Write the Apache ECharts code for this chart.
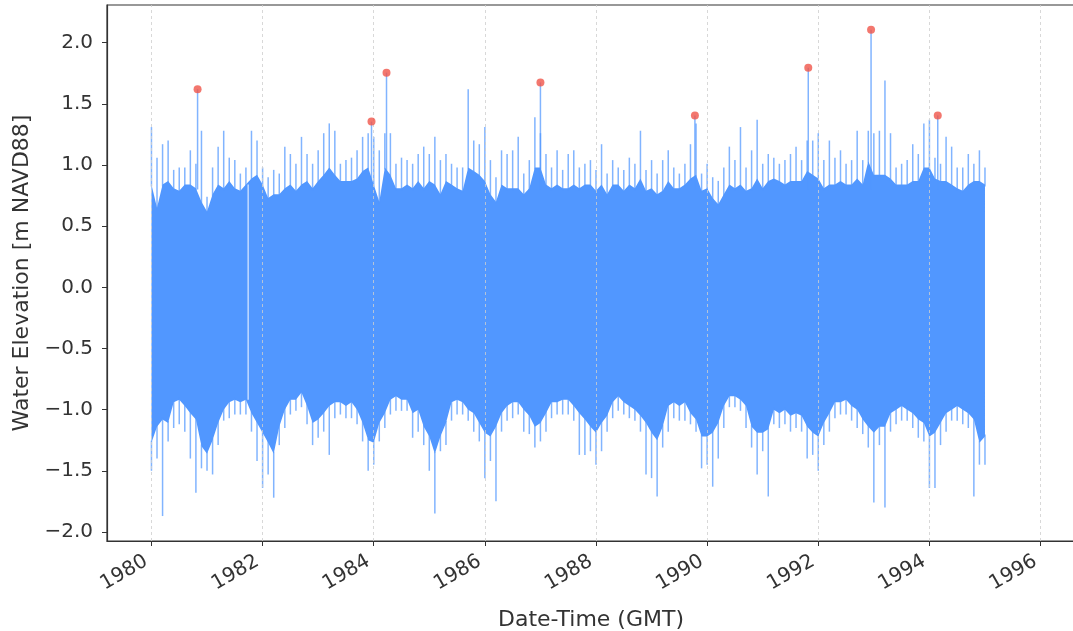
<!DOCTYPE html>
<html><head><meta charset="utf-8">
<script src="https://cdn.jsdelivr.net/npm/echarts@6/dist/echarts.min.js"></script>
<style>html,body{margin:0;padding:0;background:#fff}#c{width:1073px;height:631px}</style>
</head><body><div id="c"></div>
<script>
// Samples every 0.1 year, 1980.0 .. 1995.0
const sampleStart = 1980.0, sampleStep = 0.1;
// typical top / bottom of the tide band in each sample
const upperCore = [
 0.84,0.65,0.84,0.87,0.81,0.79,0.84,0.84,0.81,0.70,
 0.62,0.76,0.84,0.81,0.87,0.81,0.79,0.84,0.89,0.92,
 0.84,0.73,0.76,0.76,0.81,0.84,0.79,0.84,0.87,0.81,
 0.87,0.92,0.98,0.92,0.87,0.87,0.87,0.89,0.95,0.98,
 0.84,0.70,0.98,0.92,0.81,0.81,0.84,0.81,0.87,0.81,
 0.87,0.84,0.76,0.87,0.84,0.81,0.79,0.98,0.95,0.92,
 0.87,0.76,0.70,0.84,0.81,0.81,0.81,0.76,0.81,0.98,
 0.98,0.84,0.81,0.84,0.81,0.81,0.84,0.81,0.84,0.84,
 0.79,0.84,0.76,0.84,0.84,0.79,0.84,0.81,0.89,0.79,
 0.81,0.76,0.79,0.87,0.81,0.81,0.84,0.89,0.92,0.79,
 0.81,0.73,0.68,0.76,0.84,0.81,0.84,0.79,0.81,0.89,
 0.81,0.87,0.89,0.87,0.84,0.87,0.87,0.87,0.95,0.92,
 0.89,0.81,0.84,0.84,0.87,0.84,0.84,0.89,0.84,1.03,
 0.92,0.92,0.92,0.89,0.84,0.84,0.84,0.87,0.87,0.98,
 0.98,0.89,0.87,0.87,0.84,0.81,0.79,0.84,0.87,0.87,
 0.84];
// highest spike in each sample
const upperPeak = [
 1.31,1.06,1.17,1.20,0.96,0.98,0.98,1.12,1.01,1.28,
 0.74,0.98,1.15,1.28,1.06,1.04,0.93,0.98,1.28,1.20,
 0.98,0.90,0.96,0.93,1.15,1.09,1.01,1.23,1.09,1.01,
 1.12,1.26,1.34,1.28,1.01,1.04,1.06,1.12,1.23,1.26,
 1.23,1.12,1.26,1.26,1.01,1.06,1.04,1.01,1.09,1.15,
 1.09,1.23,1.04,1.09,1.01,0.98,0.98,1.62,1.20,1.17,
 1.31,1.04,0.90,1.12,1.09,1.12,1.23,0.93,1.04,1.39,
 1.26,1.09,0.98,1.12,0.96,1.09,1.12,0.98,1.01,1.04,
 0.96,1.17,0.93,1.04,0.98,0.96,1.06,1.01,1.28,0.96,
 1.04,0.93,1.04,1.12,0.98,0.93,1.01,1.17,1.34,0.93,
 1.01,0.90,0.87,0.98,1.15,1.04,1.31,0.98,1.12,1.37,
 1.01,1.09,1.06,1.01,1.04,1.09,1.15,1.04,1.20,1.20,
 1.26,1.04,1.20,1.06,1.12,1.01,1.04,1.28,1.04,1.28,
 1.26,1.28,1.69,1.26,0.98,1.01,1.04,1.17,1.09,1.34,
 1.37,1.06,1.01,1.23,1.15,0.98,0.98,1.09,1.01,1.12,
 0.98];
const lowerCore = [
 -1.27,-1.14,-1.08,-1.11,-0.94,-0.92,-0.97,-1.03,-1.08,-1.30,
 -1.36,-1.25,-1.11,-1.00,-0.94,-0.92,-0.94,-0.92,-1.03,-1.11,
 -1.19,-1.27,-1.36,-1.14,-1.00,-0.92,-0.92,-0.86,-0.97,-1.11,
 -1.08,-1.03,-0.97,-0.94,-0.94,-0.97,-0.94,-1.00,-1.11,-1.25,
 -1.27,-1.11,-1.03,-0.92,-0.89,-0.92,-0.92,-1.03,-1.00,-1.14,
 -1.22,-1.36,-1.22,-1.11,-0.94,-0.92,-0.94,-1.00,-1.03,-1.11,
 -1.19,-1.22,-1.14,-1.03,-0.97,-0.94,-0.94,-1.00,-1.05,-1.14,
 -1.11,-1.03,-0.94,-0.94,-0.92,-0.92,-0.97,-1.03,-1.08,-1.14,
 -1.19,-1.11,-1.05,-0.94,-0.89,-0.94,-0.97,-1.00,-1.05,-1.11,
 -1.19,-1.25,-1.14,-0.97,-0.94,-0.97,-0.94,-1.03,-1.08,-1.22,
 -1.22,-1.19,-1.11,-0.97,-0.89,-0.89,-0.92,-0.97,-1.14,-1.19,
 -1.19,-1.16,-1.00,-1.03,-1.00,-1.05,-1.03,-1.05,-1.14,-1.19,
 -1.22,-1.11,-1.03,-0.94,-0.94,-0.92,-0.97,-1.00,-1.08,-1.14,
 -1.19,-1.14,-1.14,-1.03,-1.00,-0.97,-1.00,-1.03,-1.08,-1.11,
 -1.22,-1.19,-1.11,-1.03,-1.00,-0.97,-1.00,-1.03,-1.08,-1.27,
 -1.22];
const lowerPeak = [
 -1.50,-1.40,-1.87,-1.26,-1.15,-1.12,-1.18,-1.40,-1.68,-1.48,
 -1.50,-1.53,-1.29,-1.09,-1.07,-1.04,-1.04,-1.04,-1.18,-1.42,
 -1.64,-1.53,-1.72,-1.29,-1.15,-1.04,-1.01,-0.98,-1.12,-1.29,
 -1.23,-1.18,-1.37,-1.07,-1.04,-1.07,-1.07,-1.12,-1.26,-1.50,
 -1.45,-1.26,-1.15,-1.04,-1.01,-1.01,-1.01,-1.23,-1.18,-1.29,
 -1.50,-1.85,-1.34,-1.29,-1.09,-1.04,-1.04,-1.09,-1.18,-1.26,
 -1.56,-1.42,-1.75,-1.18,-1.09,-1.07,-1.04,-1.18,-1.20,-1.31,
 -1.26,-1.18,-1.07,-1.04,-1.04,-1.04,-1.09,-1.37,-1.37,-1.34,
 -1.45,-1.34,-1.18,-1.07,-1.01,-1.04,-1.07,-1.09,-1.18,-1.53,
 -1.56,-1.71,-1.31,-1.18,-1.07,-1.09,-1.09,-1.12,-1.18,-1.48,
 -1.45,-1.63,-1.40,-1.15,-0.98,-0.98,-1.01,-1.15,-1.31,-1.53,
 -1.34,-1.71,-1.12,-1.15,-1.12,-1.18,-1.15,-1.18,-1.40,-1.37,
 -1.50,-1.29,-1.18,-1.07,-1.04,-1.04,-1.09,-1.15,-1.20,-1.31,
 -1.76,-1.29,-1.80,-1.18,-1.12,-1.09,-1.09,-1.15,-1.23,-1.26,
 -1.64,-1.64,-1.29,-1.18,-1.09,-1.09,-1.12,-1.15,-1.71,-1.45,
 -1.45];
const sampleYears = upperCore.map((_, i) => +(sampleStart + i * sampleStep).toFixed(2));

// Annual-maximum events (red dots)
const eventYears  = [1980.83, 1983.96, 1984.23, 1987.00, 1989.78, 1991.82, 1992.95, 1994.15];
const eventValues = [1.62, 1.355, 1.755, 1.675, 1.405, 1.795, 2.105, 1.405];

// Data gap (thin white line through the band)
const gapYears = [1981.74];

const xTicks = [1980, 1982, 1984, 1986, 1988, 1990, 1992, 1994, 1996];
const yTicks = [-2, -1.5, -1, -0.5, 0, 0.5, 1, 1.5, 2];

const BLUE = '#5197ff';
const SPIKE = 'rgba(81,151,255,0.72)';
const RED = '#f0554a';
const FONT = 'DejaVu Sans';
const TXT = '#333';

const chart = echarts.init(document.getElementById('c'), null, {renderer: 'canvas'});

function renderBand(params, api) {
  const pts = [];
  for (let i = 0; i < sampleYears.length; i++) pts.push(api.coord([sampleYears[i], upperCore[i]]));
  for (let i = sampleYears.length - 1; i >= 0; i--) pts.push(api.coord([sampleYears[i], lowerCore[i]]));
  return {type: 'polygon', shape: {points: pts}, style: {fill: BLUE}};
}

function renderSpikes(params, api) {
  const t = api.value(0);
  const a = api.coord([t, api.value(1)]), b = api.coord([t, api.value(2)]);
  const c = api.coord([t, api.value(3)]), d = api.coord([t, api.value(4)]);
  return {type: 'group', children: [
    {type: 'line', shape: {x1: a[0], y1: a[1] + 2, x2: b[0], y2: b[1]}, style: {stroke: SPIKE, lineWidth: 1.5}},
    {type: 'line', shape: {x1: c[0], y1: c[1] - 2, x2: d[0], y2: d[1]}, style: {stroke: SPIKE, lineWidth: 1.5}}
  ]};
}

function renderGap(params, api) {
  const g = api.value(0);
  let k = 0;
  while (k < sampleYears.length - 1 && sampleYears[k + 1] <= g) k++;
  const a = api.coord([g, upperCore[k]]), b = api.coord([g, lowerCore[k]]);
  return {type: 'line', shape: {x1: a[0], y1: a[1], x2: b[0], y2: b[1]},
    style: {stroke: 'rgba(255,255,255,0.75)', lineWidth: 1.3}};
}

function renderEventSpikes(params, api) {
  const t = api.value(0);
  const a = api.coord([t, 0.8]), b = api.coord([t, api.value(1)]);
  return {type: 'line', shape: {x1: a[0], y1: a[1], x2: b[0], y2: b[1]}, style: {stroke: SPIKE, lineWidth: 1.5}};
}

const fmtY = v => (v < 0 ? '\u2212' : '') + Math.abs(v).toFixed(1);

chart.setOption({
  animation: false,
  backgroundColor: '#fff',
  grid: {left: 107, right: -2, top: 5, bottom: 90, outerBoundsMode: 'none', containLabel: false,
    show: true, borderColor: '#333', borderWidth: 1.2, backgroundColor: 'transparent'},
  xAxis: {
    type: 'value', min: 1979.2, max: 1996.62,
    name: 'Date-Time (GMT)', nameLocation: 'middle', nameGap: 68,
    nameTextStyle: {fontFamily: FONT, fontSize: 22, color: TXT},
    axisLine: {show: true, onZero: false, lineStyle: {color: '#333', width: 1.2}},
    axisTick: {show: true, length: 5, lineStyle: {color: '#333'}, customValues: xTicks},
    axisLabel: {show: true, rotate: 30, margin: 16, padding: [0, 6, 0, 0], fontFamily: FONT, fontSize: 20, color: TXT,
      customValues: xTicks, formatter: v => String(Math.round(v))},
    splitLine: {show: false}
  },
  yAxis: {
    type: 'value', min: -2.074, max: 2.308,
    name: 'Water Elevation [m NAVD88]', nameLocation: 'middle', nameGap: 74,
    nameTextStyle: {fontFamily: FONT, fontSize: 22, color: TXT},
    axisLine: {show: true, onZero: false, lineStyle: {color: '#333', width: 1.2}},
    axisTick: {show: true, length: 5, lineStyle: {color: '#333'}, customValues: yTicks},
    axisLabel: {show: true, margin: 14, fontFamily: FONT, fontSize: 20, color: TXT,
      customValues: yTicks, formatter: fmtY},
    splitLine: {show: false}
  },
  series: [
    {
      type: 'line', data: [], z: 0, silent: true,
      markLine: {silent: true, symbol: 'none', label: {show: false},
        lineStyle: {type: [3, 3], color: '#cfcfcf', width: 0.8},
        data: xTicks.map(v => ({xAxis: v}))}
    },
    {
      type: 'custom', z: 2, clip: true, silent: true,
      renderItem: renderBand, data: [[sampleStart, 0]], encode: {x: 0, y: 1}
    },
    {
      type: 'custom', z: 3, clip: true, silent: true,
      renderItem: renderSpikes,
      data: sampleYears.map((t, i) => [t, upperCore[i], upperPeak[i], lowerCore[i], lowerPeak[i]]),
      encode: {x: 0, y: [1, 2, 3, 4]}
    },
    {
      type: 'custom', z: 3, clip: true, silent: true,
      renderItem: renderGap, data: gapYears.map(g => [g, 0]), encode: {x: 0, y: 1}
    },
    {
      type: 'custom', z: 3, clip: true, silent: true,
      renderItem: renderEventSpikes,
      data: eventYears.map((t, i) => [t, eventValues[i]]), encode: {x: 0, y: 1}
    },
    {
      type: 'scatter', z: 5, symbol: 'circle', symbolSize: 8,
      itemStyle: {color: RED},
      data: eventYears.map((t, i) => [t, eventValues[i]])
    }
  ]
});
</script>
</body></html>
